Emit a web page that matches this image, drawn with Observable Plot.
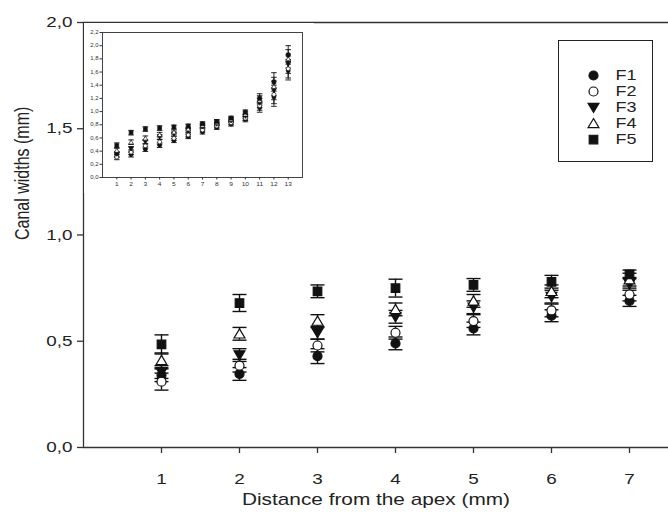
<!DOCTYPE html>
<html><head><meta charset="utf-8">
<script src="https://cdn.jsdelivr.net/npm/d3@7"></script>
<script src="https://cdn.jsdelivr.net/npm/@observablehq/plot@0.6"></script>
<style>
body{margin:0;background:#fff;}
#wrap{position:relative;width:668px;height:517px;font-family:"Liberation Sans",Arial,sans-serif;}
#wrap > div{position:absolute;}
#legend{box-sizing:border-box;border:1px solid #222;background:#fff;}
</style></head><body><div id="wrap"><div id="mainDiv" style="left:0;top:0"></div><div id="insetDiv" style="left:84px;top:23px"></div><div id="legend" style="left:558px;top:40px;width:95px;height:122px"></div></div>
<script>
// ---- main chart data (mm) ----
const distances = [1, 2, 3, 4, 5, 6, 7];
const seriesNames = ["F1", "F2", "F3", "F4", "F5"];
const F1 = [0.34, 0.346, 0.43, 0.49, 0.56, 0.62, 0.69];
const F2 = [0.31, 0.385, 0.48, 0.54, 0.595, 0.645, 0.72];
const F3 = [0.355, 0.435, 0.54, 0.615, 0.66, 0.71, 0.77];
const F4 = [0.41, 0.535, 0.595, 0.65, 0.69, 0.735, 0.79];
const F5 = [0.485, 0.68, 0.735, 0.75, 0.765, 0.78, 0.815];
const F1err = [0.03, 0.03, 0.035, 0.03, 0.03, 0.028, 0.026];
const F2err = [0.04, 0.03, 0.03, 0.03, 0.03, 0.03, 0.03];
const F3err = [0.03, 0.03, 0.03, 0.03, 0.03, 0.03, 0.03];
const F4err = [0.035, 0.03, 0.03, 0.03, 0.03, 0.03, 0.03];
const F5err = [0.045, 0.04, 0.03, 0.042, 0.03, 0.03, 0.02];
const yTicks = [0, 0.5, 1, 1.5, 2];

// ---- inset data (1-13 mm) ----
const insetDistances = [1, 2, 3, 4, 5, 6, 7, 8, 9, 10, 11, 12, 13];
const insetF1 = [0.34, 0.346, 0.43, 0.49, 0.56, 0.62, 0.69, 0.76, 0.81, 0.88, 1.06, 1.22, 1.62];
const insetF2 = [0.31, 0.385, 0.48, 0.54, 0.595, 0.645, 0.72, 0.78, 0.83, 0.90, 1.09, 1.26, 1.65];
const insetF3 = [0.355, 0.435, 0.54, 0.615, 0.66, 0.71, 0.77, 0.81, 0.86, 0.93, 1.13, 1.32, 1.72];
const insetF4 = [0.41, 0.535, 0.595, 0.65, 0.69, 0.735, 0.79, 0.83, 0.88, 0.96, 1.17, 1.38, 1.80];
const insetF5 = [0.485, 0.68, 0.735, 0.75, 0.765, 0.78, 0.815, 0.85, 0.90, 0.99, 1.20, 1.45, 1.86];
const insetErr = [0.04, 0.035, 0.035, 0.035, 0.03, 0.03, 0.03, 0.03, 0.03, 0.035, 0.07, 0.14, 0.14];
const insetYTicks = [0, 0.2, 0.4, 0.6, 0.8, 1.0, 1.2, 1.4, 1.6, 1.8, 2.0, 2.2];

// ---- helpers ----
function rows(xs, vals, errs) {
  return xs.map((x, i) => ({x, y: vals[i], lo: vals[i] - errs[i], hi: vals[i] + errs[i]}));
}
const fmt = d => d.toFixed(1).replace(".", ",");
const rad = s => Math.sqrt(s / Math.PI);
const circleSym = {draw(c, s) { const r = rad(s); c.moveTo(r, 0); c.arc(0, 0, r, 0, 2 * Math.PI); c.closePath(); }};
const squareSym = {draw(c, s) { const h = rad(s) * 0.95; c.rect(-h, -h, 2 * h, 2 * h); }};
const triUpSym = {draw(c, s) { const h = rad(s) * 1.1; c.moveTo(0, -h); c.lineTo(h * 1.1, h * 0.85); c.lineTo(-h * 1.1, h * 0.85); c.closePath(); }};
const triDownSym = {draw(c, s) { const h = rad(s) * 1.1; c.moveTo(0, h); c.lineTo(h * 1.1, -h * 0.85); c.lineTo(-h * 1.1, -h * 0.85); c.closePath(); }};
const capSym = {draw(c, s) { const r = rad(s); c.moveTo(-r, 0); c.lineTo(r, 0); }};

const styles = {
  F1: {symbol: circleSym, fill: "#111"},
  F2: {symbol: circleSym, fill: "#fff"},
  F3: {symbol: triDownSym, fill: "#111"},
  F4: {symbol: triUpSym, fill: "#fff"},
  F5: {symbol: squareSym, fill: "#111"}
};
const mainSeries = {F1: rows(distances, F1, F1err), F2: rows(distances, F2, F2err), F3: rows(distances, F3, F3err), F4: rows(distances, F4, F4err), F5: rows(distances, F5, F5err)};
const insetSeries = {F1: rows(insetDistances, insetF1, insetErr), F2: rows(insetDistances, insetF2, insetErr), F3: rows(insetDistances, insetF3, insetErr), F4: rows(insetDistances, insetF4, insetErr), F5: rows(insetDistances, insetF5, insetErr)};

function seriesMarks(series, r, capR, sw, msw) {
  const m = [];
  for (const n of seriesNames) {
    const d = series[n];
    m.push(Plot.ruleX(d, {x: "x", y1: "lo", y2: "hi", stroke: "#111", strokeWidth: sw}));
    m.push(Plot.dot(d, {x: "x", y: "hi", symbol: capSym, r: capR, stroke: "#111", fill: "none", strokeWidth: sw}));
    m.push(Plot.dot(d, {x: "x", y: "lo", symbol: capSym, r: capR, stroke: "#111", fill: "none", strokeWidth: sw}));
  }
  for (const n of seriesNames) {
    m.push(Plot.dot(series[n], {x: "x", y: "y", symbol: styles[n].symbol, r, fill: styles[n].fill, stroke: "#111", strokeWidth: msw}));
  }
  return m;
}

function stretch(svg, f) {
  svg.querySelectorAll("text").forEach(t => {
    let tr = t.getAttribute("transform");
    if (!tr) {
      const x = +t.getAttribute("x") || 0, y = +t.getAttribute("y") || 0;
      t.removeAttribute("x"); t.removeAttribute("y");
      tr = `translate(${x},${y})`;
    }
    t.setAttribute("transform", tr + (tr.includes("rotate") ? ` scale(1,${f})` : ` scale(${f},1)`));
  });
}

const font = "'Liberation Sans', Arial, sans-serif";

// ---- main chart ----
const main = Plot.plot({
  width: 668, height: 517,
  marginLeft: 83, marginTop: 22, marginRight: 0, marginBottom: 70,
  style: {fontFamily: font, background: "transparent", color: "#222"},
  x: {domain: [0, 7.5]},
  y: {domain: [0, 2]},
  marks: [
    Plot.ruleY([0, 2], {stroke: "#333", strokeWidth: 1.3}),
    Plot.ruleX([0], {stroke: "#333", strokeWidth: 1.3}),
    Plot.axisX({ticks: distances, tickSize: 6, tickPadding: 20, fontSize: 14.5, label: null, stroke: "#333", strokeWidth: 1.3}),
    Plot.axisY({ticks: yTicks, tickSize: 6, tickPadding: 5, tickFormat: fmt, fontSize: 14.5, label: null, stroke: "#333", strokeWidth: 1.3}),
    Plot.text(["Distance from the apex (mm)"], {frameAnchor: "bottom", dy: 57, fontSize: 16, fill: "#222"}),
    Plot.text(["Canal widths (mm)"], {frameAnchor: "left", rotate: -90, dx: -61, dy: 5, fontSize: 16, fill: "#222"}),
    ...seriesMarks(mainSeries, 4.5, 7, 1.4, 1.2)
  ]
});
stretch(main, 1.3);
document.getElementById("mainDiv").appendChild(main);

// ---- inset ----
const inset = Plot.plot({
  width: 230, height: 170,
  marginLeft: 18, marginTop: 9, marginRight: 12, marginBottom: 16,
  style: {fontFamily: font, background: "#fff", color: "#333"},
  x: {domain: [0, 14]},
  y: {domain: [0, 2.2]},
  marks: [
    Plot.frame({stroke: "#444", strokeWidth: 1}),
    Plot.axisX({ticks: insetDistances, tickSize: 2.5, tickPadding: 2, fontSize: 5.5, label: null}),
    Plot.axisY({ticks: insetYTicks, tickSize: 2.5, tickPadding: 1.5, tickFormat: fmt, fontSize: 5, label: null}),
    ...seriesMarks(insetSeries, 2, 2.8, 0.9, 0.7)
  ]
});
stretch(inset, 1.2);
document.getElementById("insetDiv").appendChild(inset);

// ---- legend ----
const legendMarks = [];
for (const n of seriesNames) {
  legendMarks.push(Plot.dot([n], {y: d => d, frameAnchor: "left", dx: 34, symbol: styles[n].symbol, r: 4.5, fill: styles[n].fill, stroke: "#111", strokeWidth: 1.2}));
}
legendMarks.push(Plot.text(seriesNames, {y: d => d, text: d => d, frameAnchor: "left", dx: 56, textAnchor: "start", fontSize: 15, fill: "#222"}));
const legend = Plot.plot({
  width: 93, height: 120, margin: 0,
  style: {fontFamily: font, background: "transparent"},
  y: {type: "point", domain: seriesNames, range: [25, 106], axis: null},
  marks: legendMarks
});
stretch(legend, 1.2);
document.getElementById("legend").appendChild(legend);
</script>
</body></html>
